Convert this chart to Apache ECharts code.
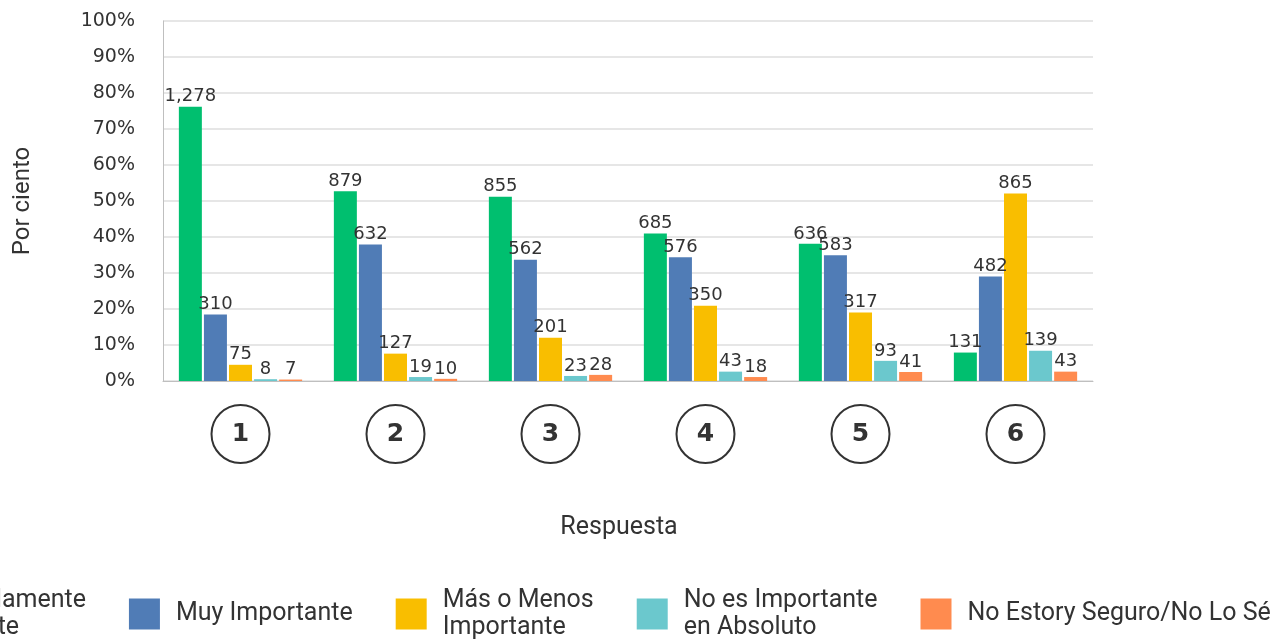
<!DOCTYPE html>
<html>
<head>
<meta charset="utf-8">
<script src="https://cdn.jsdelivr.net/npm/echarts@6/dist/echarts.min.js"></script>
<style>
  html, body { margin: 0; padding: 0; background: #fff; }
  #chart { width: 1271px; height: 642px; }
</style>
</head>
<body>
<div id="chart"></div>
<script>
const categories = ['1', '2', '3', '4', '5', '6']
const seriesNames = [
  'Extremadamente\nImportante',
  'Muy Importante',
  'Más o Menos\nImportante',
  'No es Importante\nen Absoluto',
  'No Estory Seguro/No Lo Sé'
]
const colors = ['#00bf6f', '#507cb6', '#f9be00', '#6bc8cd', '#ff8b4f']
// counts shown as bar labels
const countsExtrem = [1278, 879, 855, 685, 636, 131]
const countsMuy = [310, 632, 562, 576, 583, 482]
const countsMas = [75, 127, 201, 350, 317, 865]
const countsNo = [8, 19, 23, 43, 93, 139]
const countsNoSe = [7, 10, 28, 18, 41, 43]
// bar heights, percent of answers per question
const pctExtrem = [76.2, 52.7, 51.2, 41.0, 38.1, 7.9]
const pctMuy = [18.5, 37.9, 33.7, 34.4, 34.9, 29.0]
const pctMas = [4.5, 7.6, 12.0, 20.9, 19.0, 52.1]
const pctNo = [0.5, 1.1, 1.4, 2.6, 5.6, 8.4]
const pctNoSe = [0.4, 0.6, 1.7, 1.1, 2.5, 2.6]
const yTicks = [0, 10, 20, 30, 40, 50, 60, 70, 80, 90, 100]

const pcts = [pctExtrem, pctMuy, pctMas, pctNo, pctNoSe]
const counts = [countsExtrem, countsMuy, countsMas, countsNo, countsNoSe]

const chart = echarts.init(document.getElementById('chart'))
const option = {
  animation: false,
  color: colors,
  grid: { left: 163, right: 178, top: 21, bottom: 261, outerBoundsMode: 'none' },
  legend: {
    left: -156,
    top: 582,
    width: 1700,
    itemWidth: 31,
    itemHeight: 31,
    itemGap: 43,
    icon: 'rect',
    textStyle: {
      fontFamily: 'Roboto',
      fontSize: 25,
      lineHeight: 27,
      color: '#333',
      padding: [0, 0, 0, 11]
    },
    data: seriesNames
  },
  xAxis: {
    type: 'category',
    data: categories,
    name: 'Respuesta',
    nameLocation: 'middle',
    nameGap: 134,
    nameTextStyle: { fontFamily: 'Roboto', fontSize: 25, color: '#333', padding: [0, 18, 0, 0] },
    axisLine: { lineStyle: { color: '#bfbfbf', width: 1 } },
    axisTick: { show: false },
    axisLabel: {
      margin: 24,
      width: 58,
      height: 58,
      lineHeight: 58,
      align: 'center',
      borderColor: '#333',
      borderWidth: 2,
      borderRadius: 31,
      fontFamily: 'DejaVu Sans',
      fontWeight: 'bold',
      fontSize: 25,
      color: '#333'
    }
  },
  yAxis: {
    type: 'value',
    min: yTicks[0],
    max: yTicks[yTicks.length - 1],
    interval: 10,
    name: 'Por ciento',
    nameLocation: 'middle',
    nameGap: 128,
    nameTextStyle: { fontFamily: 'Roboto', fontSize: 24, color: '#333' },
    axisLine: { show: true, lineStyle: { color: '#bfbfbf' } },
    splitLine: { lineStyle: { color: '#e6e6e6', width: 2 } },
    axisLabel: {
      formatter: '{value}%',
      margin: 28,
      fontFamily: 'DejaVu Sans',
      fontSize: 19,
      color: '#333'
    }
  },
  series: seriesNames.map((name, i) => ({
    name: name,
    type: 'bar',
    barWidth: 23,
    barGap: '9%',
    data: pcts[i],
    label: {
      show: true,
      position: 'top',
      distance: 1,
      fontFamily: 'DejaVu Sans',
      fontSize: 18,
      color: '#333',
      formatter: p => counts[i][p.dataIndex].toLocaleString('en-US')
    },
    labelLayout: { hideOverlap: false }
  }))
}
chart.setOption(option)
</script>
</body>
</html>
